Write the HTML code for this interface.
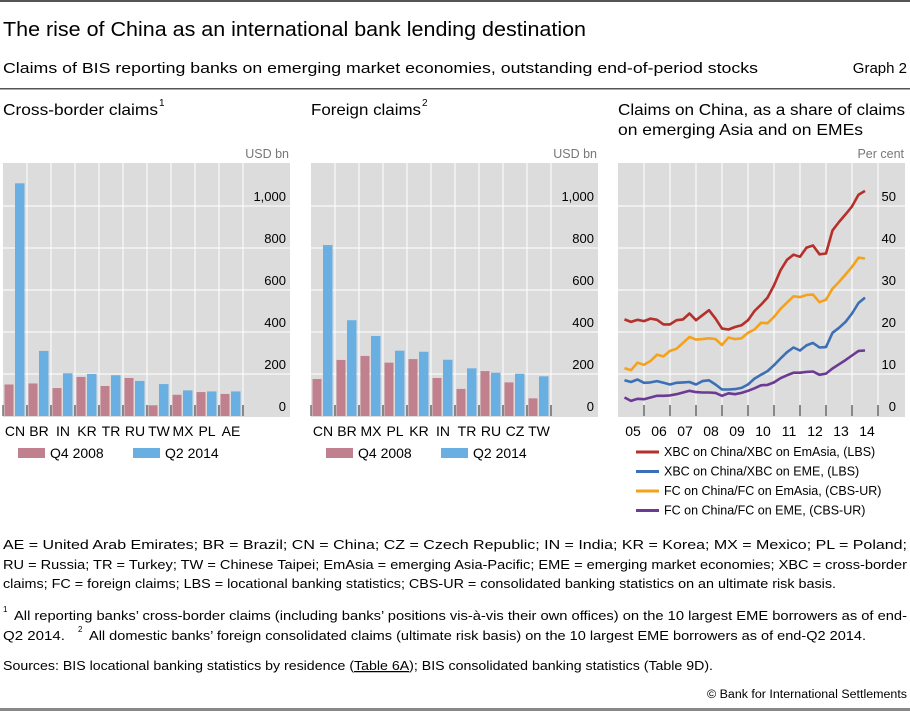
<!DOCTYPE html>
<html><head><meta charset="utf-8"><style>
html,body{margin:0;padding:0;background:#fff;}
svg{display:block;font-family:"Liberation Sans",sans-serif;}
</style></head><body>
<svg id="s" width="910" height="711" viewBox="0 0 910 711" xmlns="http://www.w3.org/2000/svg">
<rect x="0" y="0" width="910" height="2" fill="#555"/>
<text x="3" y="36" font-size="20" fill="#000" textLength="583" lengthAdjust="spacingAndGlyphs">The rise of China as an international bank lending destination</text>
<text x="3" y="73" font-size="15" fill="#000" textLength="755" lengthAdjust="spacingAndGlyphs">Claims of BIS reporting banks on emerging market economies, outstanding end-of-period stocks</text>
<text x="907" y="73" font-size="15" text-anchor="end">Graph 2</text>
<rect x="0" y="88" width="910" height="1.5" fill="#555"/>
<text x="3" y="115" font-size="16" textLength="155" lengthAdjust="spacingAndGlyphs">Cross-border claims</text>
<text x="159" y="106" font-size="10">1</text>
<text x="311" y="115" font-size="16" textLength="110" lengthAdjust="spacingAndGlyphs">Foreign claims</text>
<text x="422" y="106" font-size="10">2</text>
<text x="618" y="115" font-size="16" textLength="287" lengthAdjust="spacingAndGlyphs">Claims on China, as a share of claims</text>
<text x="618" y="135" font-size="16" textLength="245" lengthAdjust="spacingAndGlyphs">on emerging Asia and on EMEs</text>
<g id="p1"></g><g id="p2"></g><g id="p3"></g>
<g font-size="12.5" fill="#000">
<text x="3" y="549" textLength="904" lengthAdjust="spacingAndGlyphs">AE = United Arab Emirates; BR = Brazil; CN = China; CZ = Czech Republic; IN = India; KR = Korea; MX = Mexico; PL = Poland;</text>
<text x="3" y="569" textLength="904" lengthAdjust="spacingAndGlyphs">RU = Russia; TR = Turkey; TW = Chinese Taipei; EmAsia = emerging Asia-Pacific; EME = emerging market economies; XBC = cross-border</text>
<text x="3" y="588" textLength="833" lengthAdjust="spacingAndGlyphs">claims; FC = foreign claims; LBS = locational banking statistics; CBS-UR = consolidated banking statistics on an ultimate risk basis.</text>
<text x="3" y="612" font-size="8">1</text>
<text x="14" y="620" textLength="893" lengthAdjust="spacingAndGlyphs">All reporting banks’ cross-border claims (including banks’ positions vis-à-vis their own offices) on the 10 largest EME borrowers as of end-</text>
<text x="3" y="640" textLength="62" lengthAdjust="spacingAndGlyphs">Q2 2014.</text>
<text x="78" y="632" font-size="8">2</text>
<text x="89" y="640" textLength="777" lengthAdjust="spacingAndGlyphs">All domestic banks’ foreign consolidated claims (ultimate risk basis) on the 10 largest EME borrowers as of end-Q2 2014.</text>
<text x="3" y="670" textLength="710" lengthAdjust="spacingAndGlyphs">Sources: BIS locational banking statistics by residence (<tspan text-decoration="underline">Table 6A</tspan>); BIS consolidated banking statistics (Table 9D).</text>
<text x="907" y="698" font-size="11.5" text-anchor="end" textLength="200" lengthAdjust="spacingAndGlyphs">© Bank for International Settlements</text>
</g>
<rect x="0" y="708" width="910" height="3" fill="#888"/>
</svg>
<script>
const cats1 = ["CN","BR","IN","KR","TR","RU","TW","MX","PL","AE"];
const q4_2008_1 = [150,155,133,186,143,181,51,101,114,105];
const q2_2014_1 = [1108,310,203,200,194,167,152,122,117,117];
const cats2 = ["CN","BR","MX","PL","KR","IN","TR","RU","CZ","TW"];
const q4_2008_2 = [176,267,286,254,271,181,129,214,160,84];
const q2_2014_2 = [814,456,381,311,306,268,227,206,201,189];
const barTicks = [0,200,400,600,800,1000];
const barTickLabels = ["0","200","400","600","800","1,000"];
const years = ["05","06","07","08","09","10","11","12","13","14"];
const xbcEmAsia = [23.0,22.4,22.9,22.6,23.2,22.9,21.8,21.8,22.8,23.0,24.4,22.8,24.0,25.2,23.2,20.8,20.6,21.2,21.6,22.8,25.0,26.5,28.2,31.1,34.7,37.2,38.4,37.9,40.1,40.6,38.5,38.7,44.2,46.2,48.0,49.9,52.7,53.6];
const xbcEme = [8.5,8.1,8.7,7.9,8.0,8.3,7.9,7.5,7.9,8.0,8.1,7.5,8.3,8.5,7.5,6.3,6.3,6.4,6.7,7.5,8.9,9.8,10.7,12.1,13.7,15.2,16.3,15.6,16.8,17.4,16.3,16.4,19.8,21.0,22.4,24.4,26.9,28.2];
const fcEmAsia = [11.4,10.9,12.7,12.2,13.1,14.6,14.2,15.5,16.0,17.4,18.8,18.2,18.3,18.5,18.3,16.9,18.7,18.3,18.5,19.8,20.6,22.2,22.1,23.6,25.5,27.0,28.5,28.3,28.8,28.9,27.1,27.7,30.3,31.9,33.7,35.5,37.7,37.5];
const fcEme = [4.4,3.6,4.1,4.0,4.4,4.8,4.8,4.9,5.2,5.6,6.0,5.7,5.6,5.6,5.5,4.8,5.4,5.2,5.5,6.0,6.6,7.3,7.4,8.0,9.0,9.7,10.3,10.3,10.5,10.6,9.8,10.1,11.3,12.3,13.3,14.4,15.5,15.6];
const pctTicks = [0,10,20,30,40,50];
const seriesNames = ["XBC on China/XBC on EmAsia, (LBS)","XBC on China/XBC on EME, (LBS)","FC on China/FC on EmAsia, (CBS-UR)","FC on China/FC on EME, (CBS-UR)"];

const NS="http://www.w3.org/2000/svg";
function mk(parent,tag,attrs,text){const e=document.createElementNS(NS,tag);for(const k in attrs)e.setAttribute(k,attrs[k]);if(text!==undefined)e.textContent=text;parent.appendChild(e);return e;}
const Y0=416, YTOP=163, GRID="#fff", BG="#dcdcdc";

function barPanel(gid,x0,x1,cats,a,b,name){
  const g=document.getElementById(gid);
  const catW=24;
  const yS=v=>Y0-v*0.21;
  const bg=mk(g,'rect',{x:x0,y:YTOP,width:x1-x0,height:Y0-YTOP+1,fill:BG});
  
  
  barTicks.forEach((t,i)=>{
    const y=yS(t);
    if(t>0){const l=mk(g,'line',{x1:x0,x2:x1,y1:y,y2:y,stroke:GRID,'stroke-width':1});
      
      }
    const tx=mk(g,'text',{x:x1-4,y:y-5,'font-size':13,'text-anchor':'end',fill:'#000'},barTickLabels[i]);
    
    
  });
  const u=mk(g,'text',{x:x1-1,y:158,'font-size':12.5,'text-anchor':'end',fill:'#777'},'USD bn');
  
  
  for(let i=0;i<=cats.length;i++){
    const x=x0+i*catW;
    if(i>0){const l=mk(g,'line',{x1:x,x2:x,y1:YTOP,y2:Y0,stroke:GRID,'stroke-width':1});
      
      }
    const tk=mk(g,'line',{x1:x,x2:x,y1:Y0-11,y2:Y0,stroke:'#333','stroke-width':1});
    
    
  }
  cats.forEach((c,i)=>{
    const cx=x0+i*catW;
    const r1=mk(g,'rect',{x:cx+1.5,y:yS(a[i]),width:9,height:a[i]*0.21,fill:'#c1808d'});
    
    
    const r2=mk(g,'rect',{x:cx+12,y:yS(b[i]),width:9.5,height:b[i]*0.21,fill:'#6aafe1'});
    
    
    const t=mk(g,'text',{x:cx+12,y:436,'font-size':14,'text-anchor':'middle',fill:'#000'},c);
    
    
  });
  const lx=x0+15;
  const s1=mk(g,'rect',{x:lx,y:448,width:27,height:10,fill:'#c1808d'});
  
  
  const t1=mk(g,'text',{x:lx+32,y:458,'font-size':14},'Q4 2008');
  
  
  const s2=mk(g,'rect',{x:lx+115,y:448,width:27,height:10,fill:'#6aafe1'});
  
  
  const t2=mk(g,'text',{x:lx+147,y:458,'font-size':14},'Q2 2014');
  
  
}
barPanel('p1',3,290,cats1,q4_2008_1,q2_2014_1,'cross-border');
barPanel('p2',311,598,cats2,q4_2008_2,q2_2014_2,'foreign');

(function(){
  const g=document.getElementById('p3');
  const x0=618,x1=905,yw=26;
  const xS=i=>x0+(i+1)*yw/4;
  const yS=v=>Y0-v*4.2;
  const bg=mk(g,'rect',{x:x0,y:YTOP,width:x1-x0,height:Y0-YTOP+1,fill:BG});
  
  
  pctTicks.forEach(t=>{
    const y=yS(t);
    if(t>0){const l=mk(g,'line',{x1:x0,x2:x1,y1:y,y2:y,stroke:GRID,'stroke-width':1});
      
      }
    const tx=mk(g,'text',{x:x1-9,y:y-5,'font-size':13,'text-anchor':'end'},String(t));
    
    
  });
  const u=mk(g,'text',{x:x1-1,y:158,'font-size':12.5,'text-anchor':'end',fill:'#777'},'Per cent');
  
  
  years.forEach((yr,i)=>{
    const x=x0+(i+1)*yw;
    const l=mk(g,'line',{x1:x,x2:x,y1:YTOP,y2:Y0,stroke:GRID,'stroke-width':1});
    
    
    const tk=mk(g,'line',{x1:x,x2:x,y1:Y0-11,y2:Y0,stroke:'#333','stroke-width':1});
    
    
    const t=mk(g,'text',{x:x0+i*yw+yw/2+2,y:436,'font-size':14,'text-anchor':'middle'},yr);
    
    
  });
  const all=[xbcEmAsia,xbcEme,fcEmAsia,fcEme];
  const cols=['#b5302a','#3b6fb6','#f4a21c','#6b3a92'];
  const ids=['xbc-emasia','xbc-eme','fc-emasia','fc-eme'];
  [3,2,1,0].forEach(k=>{
    const d=all[k].map((v,i)=>(i?'L':'M')+xS(i).toFixed(1)+','+yS(v).toFixed(1)).join(' ');
    const p=mk(g,'path',{d:d,fill:'none',stroke:cols[k],'stroke-width':2.6,'stroke-linejoin':'round'});
    
    
  });
  seriesNames.forEach((n,k)=>{
    const y=456+k*19.5;
    const l=mk(g,'line',{x1:636,x2:659,y1:y-4,y2:y-4,stroke:cols[k],'stroke-width':3});
    
    
    const t=mk(g,'text',{x:664,y:y,'font-size':12.5},n);
    
    
  });
})();
</script>
</body></html>
